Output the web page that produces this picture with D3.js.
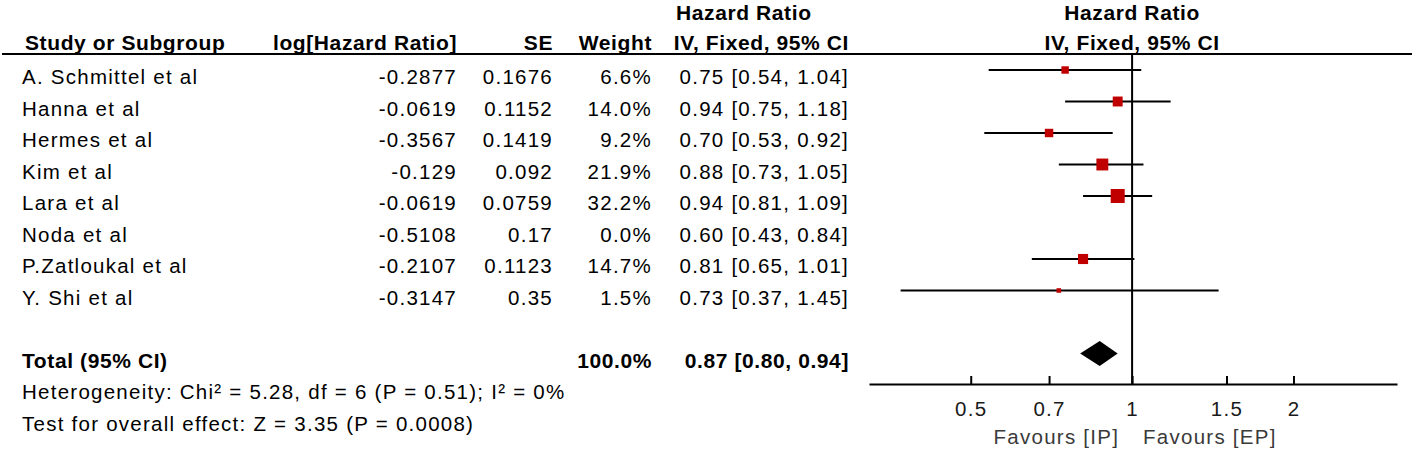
<!DOCTYPE html>
<html><head><meta charset="utf-8">
<script src="https://cdn.jsdelivr.net/npm/d3@7"></script>
<style>
html,body{margin:0;padding:0;background:#fff;overflow:hidden;}
svg text{font-family:"Liberation Sans",Arial,sans-serif;}
</style></head><body>
<svg id="c" width="1418" height="452"></svg>
<script>
// ---- data ----
const studies = ["A. Schmittel et al","Hanna et al","Hermes et al","Kim et al","Lara et al","Noda et al","P.Zatloukal et al","Y. Shi et al"];
const logHR = ["-0.2877","-0.0619","-0.3567","-0.129","-0.0619","-0.5108","-0.2107","-0.3147"];
const seValues = ["0.1676","0.1152","0.1419","0.092","0.0759","0.17","0.1123","0.35"];
const weights = [6.6,14.0,9.2,21.9,32.2,0.0,14.7,1.5];
const hr = [0.75,0.94,0.70,0.88,0.94,0.60,0.81,0.73];
const ciLow = [0.54,0.75,0.53,0.73,0.81,0.43,0.65,0.37];
const ciHigh = [1.04,1.18,0.92,1.05,1.09,0.84,1.01,1.45];
const totalLabel = "Total (95% CI)";
const totalWeight = 100.0;
const totalHR = [0.87];
const totalLow = [0.80];
const totalHigh = [0.94];
const heterogeneity = "Heterogeneity: Chi² = 5.28, df = 6 (P = 0.51); I² = 0%";
const overallEffect = "Test for overall effect: Z = 3.35 (P = 0.0008)";
const tickValues = [0.5,0.7,1,1.5,2];
const favoursLeft = "Favours [IP]";
const favoursRight = "Favours [EP]";
const headers = ["Study or Subgroup","log[Hazard Ratio]","SE","Weight","Hazard Ratio","IV, Fixed, 95% CI"];

// ---- layout ----
const svg = d3.select("#c");
const rows = studies.map((s,i)=>({name:s, lhr:logHR[i], se:seValues[i], w:weights[i], hr:hr[i], lo:ciLow[i], hi:ciHigh[i], i}));
const y = d3.scaleLinear().domain([0,1]).range([70,101.5]);
const x = d3.scaleLog().domain([0.323,3.12]).range([869,1397]);
const size = d3.scaleSqrt().domain([0,d3.max(weights)]).range([2,14]);
const f2 = d3.format(".2f"), f1 = d3.format(".1f");
const col = {name:22, lhr:457, se:553, w:652, ci:849};
const baseOff = 14;
const axisY = 384;

const reg = sel => sel.attr("font-size","20.5px").attr("letter-spacing","1.25px").attr("fill","#000");
const bold = sel => sel.attr("font-size","21px").attr("font-weight","bold").attr("letter-spacing","0.6px").attr("fill","#000");

// headers
const hdr = svg.append("g");
hdr.append("text").attr("x",25).attr("y",50).text(headers[0]).call(bold);
hdr.append("text").attr("x",col.lhr).attr("y",50).attr("text-anchor","end").text(headers[1]).call(bold);
hdr.append("text").attr("x",col.se).attr("y",50).attr("text-anchor","end").text(headers[2]).call(bold);
hdr.append("text").attr("x",col.w).attr("y",50).attr("text-anchor","end").text(headers[3]).call(bold);
hdr.append("text").attr("x",676).attr("y",20).text(headers[4]).call(bold);
hdr.append("text").attr("x",col.ci).attr("y",50).attr("text-anchor","end").text(headers[5]).call(bold);
hdr.append("text").attr("x",x(1)).attr("y",20).attr("text-anchor","middle").text(headers[4]).call(bold);
hdr.append("text").attr("x",x(1)).attr("y",50).attr("text-anchor","middle").text(headers[5]).call(bold);

svg.append("line").attr("x1",2).attr("x2",1412).attr("y1",54).attr("y2",54).attr("stroke","#000").attr("stroke-width",2);

// table rows
const tr = svg.append("g").selectAll("g").data(rows).join("g").attr("transform",d=>`translate(0,${y(d.i)+baseOff})`);
tr.append("text").attr("x",col.name).text(d=>d.name).call(reg);
tr.append("text").attr("x",col.lhr).attr("text-anchor","end").text(d=>d.lhr).call(reg);
tr.append("text").attr("x",col.se).attr("text-anchor","end").text(d=>d.se).call(reg);
tr.append("text").attr("x",col.w).attr("text-anchor","end").text(d=>f1(d.w)+"%").call(reg);
tr.append("text").attr("x",col.ci).attr("text-anchor","end").text(d=>`${f2(d.hr)} [${f2(d.lo)}, ${f2(d.hi)}]`).call(reg);

// total + footer
const tY = y(9);
svg.append("text").attr("x",col.name).attr("y",tY+baseOff).text(totalLabel).call(bold);
svg.append("text").attr("x",col.w).attr("y",tY+baseOff).attr("text-anchor","end").text(f1(totalWeight)+"%").call(bold);
svg.append("text").attr("x",col.ci).attr("y",tY+baseOff).attr("text-anchor","end").text(`${f2(totalHR[0])} [${f2(totalLow[0])}, ${f2(totalHigh[0])}]`).call(bold);
svg.append("text").attr("x",col.name).attr("y",y(10)+baseOff).text(heterogeneity).call(reg);
svg.append("text").attr("x",col.name).attr("y",y(11)+baseOff).text(overallEffect).call(reg);

// forest plot
const plotted = rows.filter(d=>d.w>0);
svg.append("line").attr("x1",x(1)).attr("x2",x(1)).attr("y1",54).attr("y2",axisY).attr("stroke","#000").attr("stroke-width",2);
svg.append("g").selectAll("line").data(plotted).join("line")
  .attr("x1",d=>x(d.lo)).attr("x2",d=>x(d.hi)).attr("y1",d=>y(d.i)).attr("y2",d=>y(d.i))
  .attr("stroke","#000").attr("stroke-width",2);
svg.append("g").selectAll("rect").data(plotted).join("rect")
  .attr("x",d=>x(d.hr)-size(d.w)/2).attr("y",d=>y(d.i)-size(d.w)/2)
  .attr("width",d=>size(d.w)).attr("height",d=>size(d.w)).attr("fill","#c00000");
svg.append("path").datum({hr:totalHR[0],lo:totalLow[0],hi:totalHigh[0]})
  .attr("d",d=>`M${x(d.lo)},${tY}L${x(d.hr)},${tY-12.5}L${x(d.hi)},${tY}L${x(d.hr)},${tY+12.5}Z`)
  .attr("fill","#000");

// axis
const ax = svg.append("g").attr("transform",`translate(0,${axisY})`)
  .call(d3.axisBottom(x).tickValues(tickValues).tickFormat(d3.format("")).tickSizeInner(-8).tickSizeOuter(0).tickPadding(17));
ax.select(".domain").attr("stroke","#000").attr("stroke-width",2);
ax.selectAll(".tick line").attr("stroke","#000").attr("stroke-width",2);
ax.selectAll(".tick text").attr("font-family","Liberation Sans, Arial, sans-serif").call(reg).attr("fill","#1a1a1a");
ax.attr("font-size",null).attr("font-family",null);

svg.append("text").attr("x",x(1)-13).attr("y",444).attr("text-anchor","end").text(favoursLeft).call(reg).attr("fill","#3a3a3a");
svg.append("text").attr("x",x(1)+11).attr("y",444).text(favoursRight).call(reg).attr("fill","#3a3a3a");
</script>
</body></html>
